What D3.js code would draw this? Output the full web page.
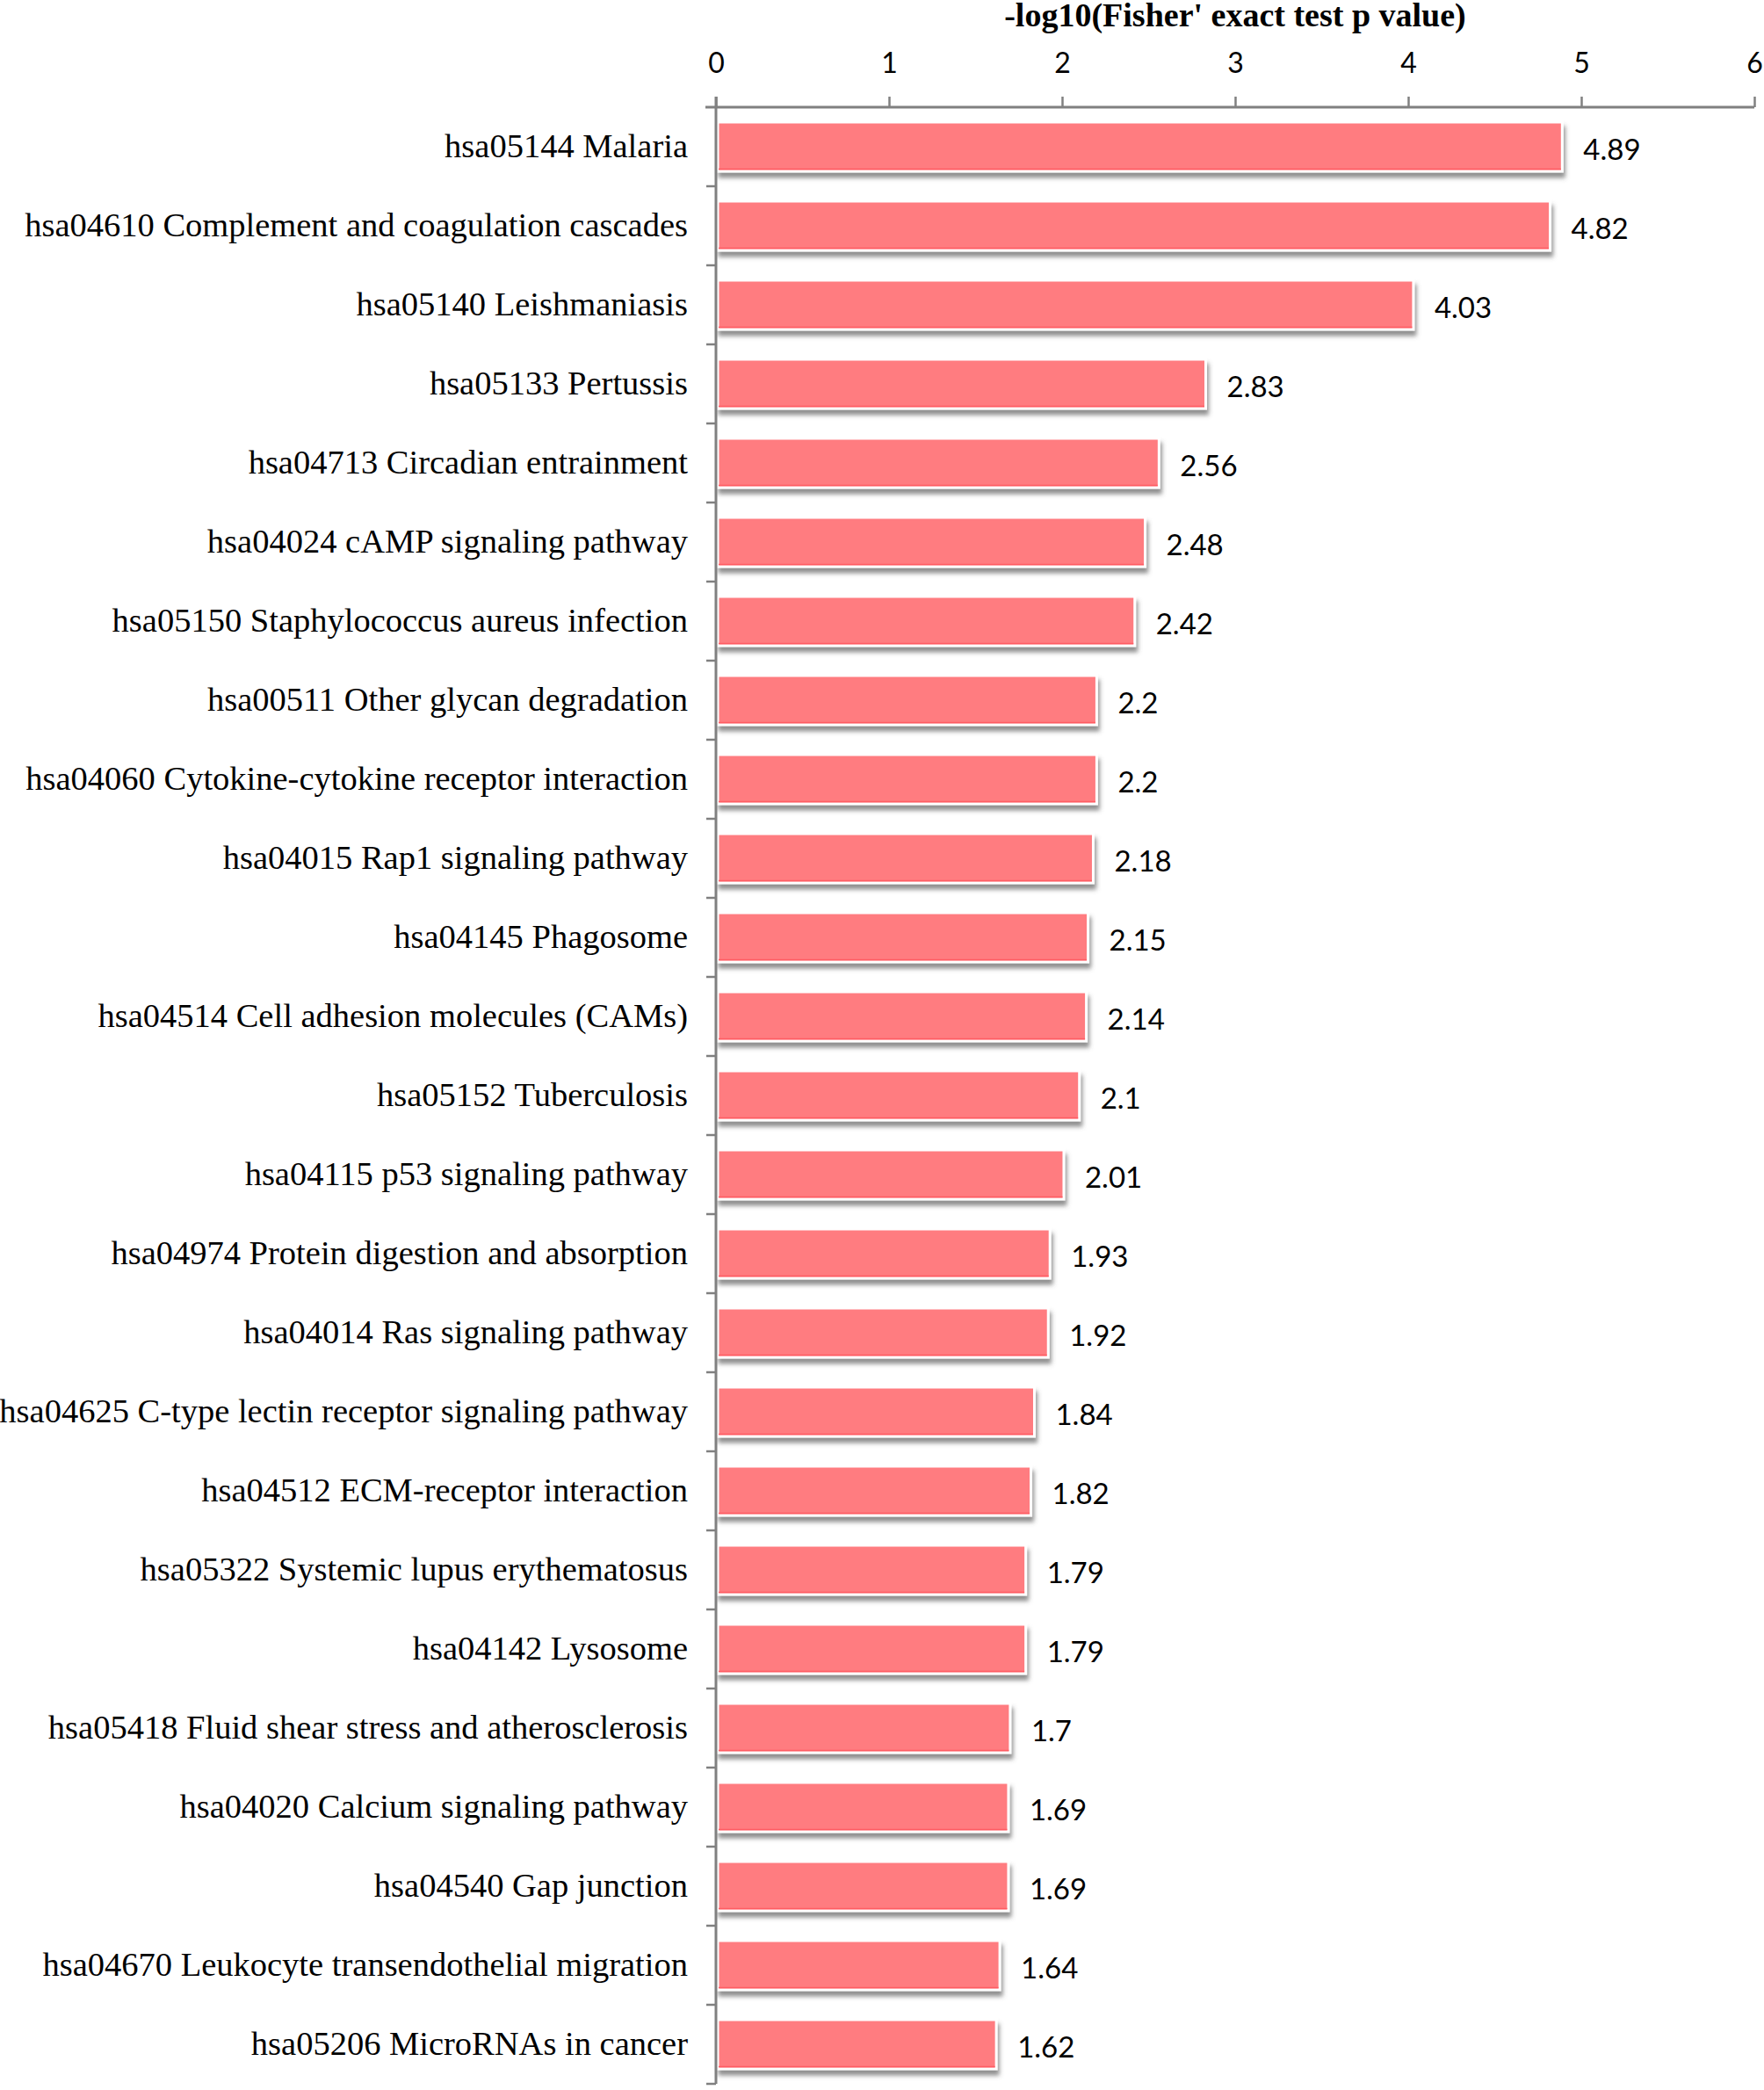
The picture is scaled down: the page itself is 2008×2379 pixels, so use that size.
<!DOCTYPE html>
<html>
<head>
<meta charset="utf-8">
<script src="https://cdn.jsdelivr.net/npm/d3@7"></script>
<style>
  html, body { margin: 0; padding: 0; background: #fff; }
  svg { display: block; }
</style>
</head>
<body>
<div id="chart"></div>
<script>
'use strict';

// pathway names, top to bottom
var pathways = [
    "hsa05144 Malaria",
    "hsa04610 Complement and coagulation cascades",
    "hsa05140 Leishmaniasis",
    "hsa05133 Pertussis",
    "hsa04713 Circadian entrainment",
    "hsa04024 cAMP signaling pathway",
    "hsa05150 Staphylococcus aureus infection",
    "hsa00511 Other glycan degradation",
    "hsa04060 Cytokine-cytokine receptor interaction",
    "hsa04015 Rap1 signaling pathway",
    "hsa04145 Phagosome",
    "hsa04514 Cell adhesion molecules (CAMs)",
    "hsa05152 Tuberculosis",
    "hsa04115 p53 signaling pathway",
    "hsa04974 Protein digestion and absorption",
    "hsa04014 Ras signaling pathway",
    "hsa04625 C-type lectin receptor signaling pathway",
    "hsa04512 ECM-receptor interaction",
    "hsa05322 Systemic lupus erythematosus",
    "hsa04142 Lysosome",
    "hsa05418 Fluid shear stress and atherosclerosis",
    "hsa04020 Calcium signaling pathway",
    "hsa04540 Gap junction",
    "hsa04670 Leukocyte transendothelial migration",
    "hsa05206 MicroRNAs in cancer"
];

// -log10(p)
var scores = [4.89, 4.82, 4.03, 2.83, 2.56, 2.48, 2.42, 2.2, 2.2, 2.18, 2.15, 2.14, 2.1,
              2.01, 1.93, 1.92, 1.84, 1.82, 1.79, 1.79, 1.7, 1.69, 1.69, 1.64, 1.62];

var xTicks = [0, 1, 2, 3, 4, 5, 6];
var axisTitle = "-log10(Fisher' exact test p value)";

var width = 2008,
    height = 2379;

var plot = { left: 815, right: 1997, top: 122, bottom: 2372 };

var data = pathways.map(function (name, i) {
    return { name: name, value: scores[i] };
});

var svg = d3.select("#chart").append("svg")
    .attr("width", width)
    .attr("height", height);

// drop shadow under each bar
var filter = svg.append("defs").append("filter")
    .attr("id", "barShadow")
    .attr("x", "-5%").attr("y", "-30%")
    .attr("width", "115%").attr("height", "180%");
filter.append("feDropShadow")
    .attr("dx", 2)
    .attr("dy", 6)
    .attr("stdDeviation", 2.5)
    .attr("flood-color", "#555")
    .attr("flood-opacity", 0.65);

var x = d3.scaleLinear()
    .domain([0, 6])
    .range([plot.left, plot.right]);

var y = d3.scaleBand()
    .domain(pathways)
    .range([plot.top, plot.bottom])
    .paddingInner(0.378)
    .paddingOuter(0.189);

var step = y.step();

// bars
var bars = svg.append("g").attr("class", "bars");

bars.selectAll("rect")
    .data(data)
    .enter().append("rect")
    .attr("x", x(0) + 2)
    .attr("y", function (d) { return y(d.name); })
    .attr("width", function (d) { return x(d.value) - x(0) - 2; })
    .attr("height", y.bandwidth())
    .attr("fill", "#ff7b80")
    .attr("stroke", "#fff")
    .attr("stroke-width", 3)
    .attr("filter", "url(#barShadow)");

// slightly darker lower edge
bars.selectAll("line")
    .data(data)
    .enter().append("line")
    .attr("x1", x(0) + 3)
    .attr("x2", function (d) { return x(d.value) - 1.5; })
    .attr("y1", function (d) { return y(d.name) + y.bandwidth() - 2.5; })
    .attr("y2", function (d) { return y(d.name) + y.bandwidth() - 2.5; })
    .attr("stroke", "#ff5c63")
    .attr("stroke-width", 1.5);

// value labels
svg.append("g").attr("class", "values")
    .selectAll("text")
    .data(data)
    .enter().append("text")
    .attr("x", function (d) { return x(d.value) + 24; })
    .attr("y", function (d) { return y(d.name) + y.bandwidth() / 2 + 15; })
    .style("font-family", "Lato, 'Open Sans', sans-serif")
    .style("font-size", "33px")
    .style("fill", "#000")
    .text(function (d) { return d.value; });

// top axis
var xAxis = svg.append("g")
    .attr("class", "x-axis")
    .attr("transform", "translate(0," + plot.top + ")")
    .call(d3.axisTop(x)
        .tickValues(xTicks)
        .tickFormat(d3.format("d"))
        .tickSize(12)
        .tickPadding(27)
        .tickSizeOuter(0));

xAxis.select(".domain").remove();
xAxis.append("line")
    .attr("x1", plot.left - 12)
    .attr("x2", plot.right)
    .attr("stroke", "#808080")
    .attr("stroke-width", 3);
xAxis.selectAll(".tick line")
    .attr("stroke", "#808080")
    .attr("stroke-width", 2.5);
xAxis.selectAll(".tick text")
    .style("font-family", "Lato, 'Open Sans', sans-serif")
    .style("font-size", "32px")
    .style("fill", "#000");

// left axis: line plus ticks between categories
var yAxis = svg.append("g").attr("class", "y-axis");

yAxis.append("line")
    .attr("x1", plot.left).attr("x2", plot.left)
    .attr("y1", plot.top - 12).attr("y2", plot.bottom)
    .attr("stroke", "#808080")
    .attr("stroke-width", 3);

yAxis.selectAll("line.cat-tick")
    .data(pathways)
    .enter().append("line")
    .attr("class", "cat-tick")
    .attr("x1", plot.left - 11).attr("x2", plot.left)
    .attr("y1", function (d) { return y(d) - y.paddingOuter() * step + step; })
    .attr("y2", function (d) { return y(d) - y.paddingOuter() * step + step; })
    .attr("stroke", "#808080")
    .attr("stroke-width", 2.5);

yAxis.selectAll("text")
    .data(pathways)
    .enter().append("text")
    .attr("x", 783)
    .attr("y", function (d) { return y(d) + y.bandwidth() / 2 + 12; })
    .attr("text-anchor", "end")
    .style("font-family", "'Liberation Serif', 'Times New Roman', serif")
    .style("font-size", "38.5px")
    .style("fill", "#000")
    .text(function (d) { return d; });

// axis title
svg.append("text")
    .attr("x", (plot.left + plot.right) / 2)
    .attr("y", 30)
    .attr("text-anchor", "middle")
    .style("font-family", "'Liberation Serif', 'Times New Roman', serif")
    .style("font-weight", "bold")
    .style("font-size", "38px")
    .style("fill", "#000")
    .text(axisTitle);
</script>
</body>
</html>
